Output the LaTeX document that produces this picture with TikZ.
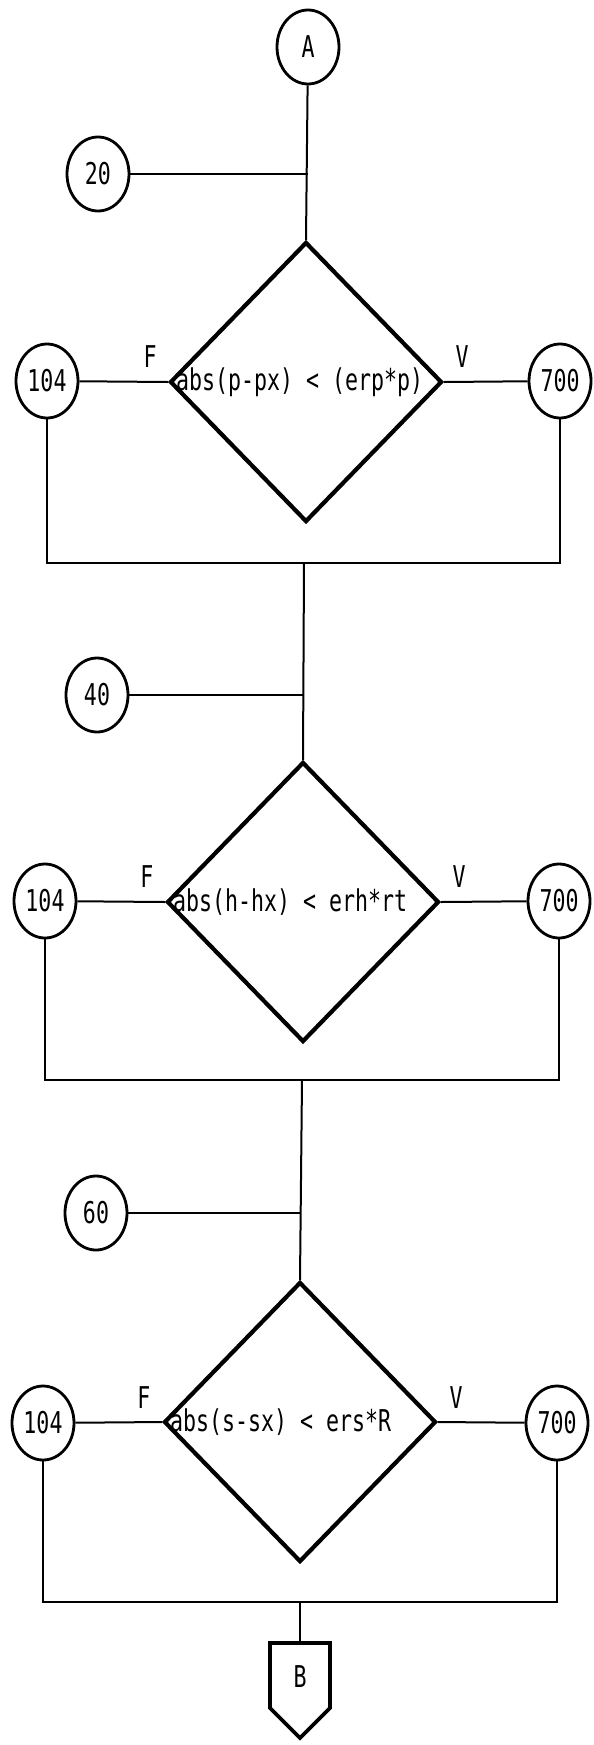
\documentclass[tikz,border=0pt]{standalone}
\usepackage{fontspec}
\newfontfamily\dotfont[FakeStretch=0.72]{DejaVu Sans Mono}
\usetikzlibrary{shapes.geometric}
\begin{document}
\begin{tikzpicture}[x=1pt,y=-1pt,
  every node/.style={font=\dotfont\fontsize{30}{32}\selectfont},
  conn/.style={draw, ellipse, line width=2.8pt, minimum width=62pt, minimum height=74pt, inner sep=0pt},
  cond/.style={draw, diamond, line width=4.2pt, minimum width=272pt, minimum height=280pt, inner sep=0pt},
  link/.style={line width=2pt},
  lbl/.style={inner sep=0pt},
  tag/.style={line width=3.8pt, line join=miter},
]
\useasboundingbox (0,0) rectangle (594,1745);

% entry connector and first test
\node[conn] (A) at (308,47) {A};
\node[conn] (n20) at (98,174) {20};
\node[cond] (d1) at (306,382) {};
\node[lbl, anchor=west] (t1) at ([xshift=8pt]d1.west) {abs(p-px) < (erp*p)};
\node[conn] (l1) at (47,381) {104};
\node[conn] (r1) at (560,381) {700};
\node[lbl] (f1) at (150,357) {F};
\node[lbl] (v1) at (462,357) {V};
\coordinate (j1) at (304,563);

\draw[link] (A) -- (d1.north);
\draw[link] (n20.east) -- (n20.east -| A);
\draw[link] (l1) -- (d1.west);
\draw[link] (d1.east) -- (r1);
\draw[link] (l1.south) |- (j1) -| (r1.south);

% second test
\node[conn] (n40) at (97,695) {40};
\node[cond] (d2) at (303,902) {};
\node[lbl, anchor=west] (t2) at ([xshift=8pt]d2.west) {abs(h-hx) < erh*rt};
\node[conn] (l2) at (45,901) {104};
\node[conn] (r2) at (559,901) {700};
\node[lbl] (f2) at (147,877) {F};
\node[lbl] (v2) at (459,877) {V};
\coordinate (j2) at (302,1080);

\draw[link] (j1) -- (d2.north);
\draw[link] (n40.east) -- (n40.east -| d2.north);
\draw[link] (l2) -- (d2.west);
\draw[link] (d2.east) -- (r2);
\draw[link] (l2.south) |- (j2) -| (r2.south);

% third test
\node[conn] (n60) at (96,1213) {60};
\node[cond] (d3) at (300,1422) {};
\node[lbl, anchor=west] (t3) at ([xshift=8pt]d3.west) {abs(s-sx) < ers*R};
\node[conn] (l3) at (43,1423) {104};
\node[conn] (r3) at (557,1423) {700};
\node[lbl] (f3) at (144,1398) {F};
\node[lbl] (v3) at (456,1398) {V};
\coordinate (j3) at (300,1602);

\draw[link] (j2) -- (d3.north);
\draw[link] (n60.east) -- (n60.east -| d3.north);
\draw[link] (l3) -- (d3.west);
\draw[link] (d3.east) -- (r3);
\draw[link] (l3.south) |- (j3) -| (r3.south);

% exit connector B
\coordinate (btop) at (300,1643);
\draw[tag] (270,1643) -- (330,1643) -- (330,1708) -- (300,1738) -- (270,1708) -- cycle;
\node[lbl] (B) at (300,1677) {B};
\draw[link] (j3) -- (btop);
\end{tikzpicture}
\end{document}
